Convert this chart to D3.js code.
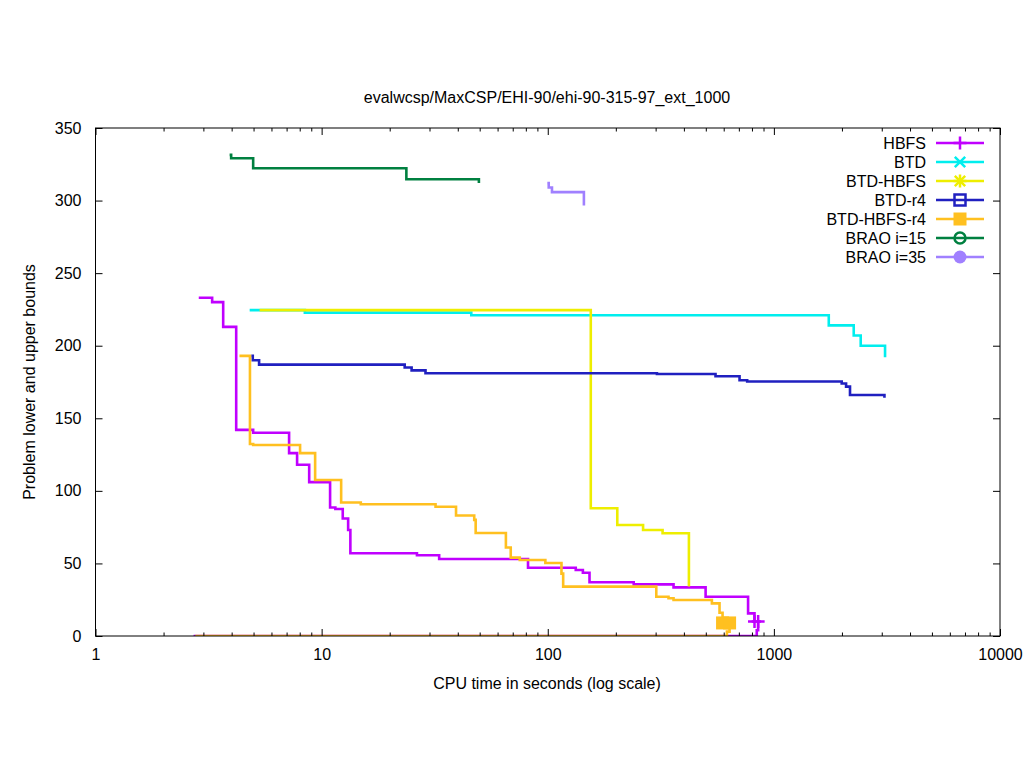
<!DOCTYPE html>
<html>
<head>
<meta charset="utf-8">
<script src="https://cdn.jsdelivr.net/npm/d3@7"></script>
<style>
  body { margin: 0; background: #fff; }
  svg text { font-family: "Liberation Sans", Arial, sans-serif; font-size: 16px; fill: #000; }
</style>
</head>
<body>
<svg id="chart" width="1024" height="768"></svg>
<script>
// series data as [cpu seconds, bound value]
const hbfsUpper = [[2.90,233],[3.28,230],[3.67,213],[4.19,142],[4.98,140],[7.18,126],[7.79,118],[8.81,106],
  [10.9,88.5],[11.5,87.5],[12.4,81],[13.1,73],[13.4,57],[26.4,55.6],[33.1,53],[81.8,47],[133,45.5],
  [143,43.6],[153,37],[240,35.6],[360,33.5],[499,27],[769,15.6],[821,10]];
const hbfsLower = [[2.75,0],[830,0],[840,4],[852,10]];
const btdUpper = [[4.87,224.5],[8.43,222.8],[45.9,221],[1749,214],[2255,207],[2421,200],[3102,193]];
const btdHbfsUpper = [[5.39,224.5],[155,88],[203,76.5],[264,73],[322,70.8],[421,35]];
const btdR4Upper = [[4.95,193],[4.96,190],[5.29,187],[23.3,185],[25.0,183],[28.8,181],[304,180.5],
  [552,179],[705,176.2],[762,175.3],[1995,174],[2086,171.8],[2171,166],[3083,165]];
const btdHbfsR4Upper = [[4.39,193],[4.82,132.3],[4.98,131.6],[8.03,126],[9.36,107.5],[12.2,92],[14.9,90.8],
  [31.9,89],[39.3,83],[47.3,80],[48,71],[65.3,61],[68.6,54],[75.2,52.4],[97.6,50.3],[115,43],[117,34],
  [302,27],[342,26],[360,24.8],[532,22.5],[575,16],[593,9]];
const btdHbfsR4Lower = [[2.8,0],[605,0],[620,3],[637,9]];
const brao15Upper = [[3.97,331.5],[3.98,329.2],[4.98,322.3],[23.7,314.7],[49.6,313]];
const brao35Upper = [[100.9,312],[101,309],[104.4,305.8],[144.5,297.5]];

const seriesNames = ['HBFS', 'BTD', 'BTD-HBFS', 'BTD-r4', 'BTD-HBFS-r4', 'BRAO i=15', 'BRAO i=35'];
const xTickLabels = [1, 10, 100, 1000, 10000];
const yTickLabels = [0, 50, 100, 150, 200, 250, 300, 350];

const colors = ['#c000ff', '#00eeee', '#eeee00', '#2020c0', '#ffc020', '#008040', '#a080ff'];
const symbols = ['plus', 'cross', 'star', 'square', 'fsquare', 'circle', 'fcircle'];

// each series: its curves, and whether the end points carry a marker
const series = [
  { curves: [hbfsUpper, hbfsLower], marked: true },
  { curves: [btdUpper], marked: false },
  { curves: [btdHbfsUpper], marked: false },
  { curves: [btdR4Upper], marked: false },
  { curves: [btdHbfsR4Upper, btdHbfsR4Lower], marked: true },
  { curves: [brao15Upper], marked: false },
  { curves: [brao35Upper], marked: false }
];

const svg = d3.select('#chart');
const plotLeft = 95.5, plotRight = 1000, plotTop = 128, plotBottom = 636;

const x = d3.scaleLog().domain([1, 10000]).range([plotLeft, plotRight]);
const y = d3.scaleLinear().domain([0, 350]).range([plotBottom, plotTop]);

svg.append('defs').append('clipPath').attr('id', 'plotClip')
  .append('rect')
  .attr('x', plotLeft).attr('y', plotTop)
  .attr('width', plotRight - plotLeft).attr('height', plotBottom - plotTop);

// point symbols
function drawSymbol(g, type, cx, cy, color) {
  const s = 6.5;
  if (type === 'plus' || type === 'star') {
    g.append('path').attr('d', `M${cx - s},${cy}H${cx + s}M${cx},${cy - s}V${cy + s}`)
      .attr('stroke', color).attr('stroke-width', 2.5).attr('fill', 'none');
  }
  if (type === 'cross' || type === 'star') {
    const c = s * 0.8;
    g.append('path').attr('d', `M${cx - c},${cy - c}L${cx + c},${cy + c}M${cx - c},${cy + c}L${cx + c},${cy - c}`)
      .attr('stroke', color).attr('stroke-width', 2.5).attr('fill', 'none');
  }
  if (type === 'square') {
    g.append('rect').attr('x', cx - 5.5).attr('y', cy - 5.5).attr('width', 11).attr('height', 11)
      .attr('fill', 'none').attr('stroke', color).attr('stroke-width', 2.5);
  }
  if (type === 'fsquare') {
    g.append('rect').attr('x', cx - s).attr('y', cy - s).attr('width', 2 * s).attr('height', 2 * s)
      .attr('fill', color);
  }
  if (type === 'circle') {
    g.append('circle').attr('cx', cx).attr('cy', cy).attr('r', 5.5)
      .attr('fill', 'none').attr('stroke', color).attr('stroke-width', 2.5);
  }
  if (type === 'fcircle') {
    g.append('circle').attr('cx', cx).attr('cy', cy).attr('r', 6.5).attr('fill', color);
  }
}

// curves, clipped to the plot box
const line = d3.line()
  .x(d => x(d[0]))
  .y(d => y(d[1]))
  .curve(d3.curveStepAfter);

const plotG = svg.append('g').attr('clip-path', 'url(#plotClip)');
series.forEach((s, i) => {
  s.curves.forEach(c => {
    plotG.append('path')
      .datum(c)
      .attr('d', line)
      .attr('fill', 'none')
      .attr('stroke', colors[i])
      .attr('stroke-width', 2.6)
      .attr('stroke-linejoin', 'miter')
      .attr('stroke-linecap', 'square');
  });
});
const markG = svg.append('g');
series.forEach((s, i) => {
  if (!s.marked) return;
  s.curves.forEach(c => {
    const last = c[c.length - 1];
    drawSymbol(markG, symbols[i], x(last[0]), y(last[1]), colors[i]);
  });
});

// minor ticks 2..9 in every decade
const minorTicks = [];
for (let d = 1; d < 10000; d *= 10) {
  for (let k = 2; k < 10; k++) minorTicks.push(d * k);
}

const axisG = svg.append('g').attr('class', 'axes');

axisG.append('g').attr('transform', `translate(0,${plotBottom})`)
  .call(d3.axisBottom(x).tickValues(xTickLabels).tickFormat(d3.format('d')).tickSizeInner(-7).tickSizeOuter(0).tickPadding(13));
axisG.append('g').attr('transform', `translate(0,${plotBottom})`)
  .call(d3.axisBottom(x).tickValues(minorTicks).tickFormat('').tickSizeInner(-3.5).tickSizeOuter(0));
axisG.append('g').attr('transform', `translate(0,${plotTop})`)
  .call(d3.axisTop(x).tickValues(xTickLabels).tickFormat('').tickSizeInner(-7).tickSizeOuter(0));
axisG.append('g').attr('transform', `translate(0,${plotTop})`)
  .call(d3.axisTop(x).tickValues(minorTicks).tickFormat('').tickSizeInner(-3.5).tickSizeOuter(0));
axisG.append('g').attr('transform', `translate(${plotLeft},0)`)
  .call(d3.axisLeft(y).tickValues(yTickLabels).tickSizeInner(-7).tickSizeOuter(0).tickPadding(14));
axisG.append('g').attr('transform', `translate(${plotRight},0)`)
  .call(d3.axisRight(y).tickValues(yTickLabels).tickFormat('').tickSizeInner(-7).tickSizeOuter(0));

axisG.selectAll('.domain').remove();
axisG.selectAll('.tick line').attr('stroke', '#000').attr('stroke-width', 1);
axisG.selectAll('.tick text').style('font-size', '16px').style('font-family', '"Liberation Sans", Arial, sans-serif').attr('fill', '#000');

svg.append('rect')
  .attr('x', plotLeft).attr('y', plotTop)
  .attr('width', plotRight - plotLeft).attr('height', plotBottom - plotTop)
  .attr('fill', 'none').attr('stroke', '#000').attr('stroke-width', 1);

// titles
svg.append('text').attr('x', 547).attr('y', 103).attr('text-anchor', 'middle')
  .text('evalwcsp/MaxCSP/EHI-90/ehi-90-315-97_ext_1000');
svg.append('text').attr('x', 547).attr('y', 689).attr('text-anchor', 'middle')
  .text('CPU time in seconds (log scale)');
svg.append('text').attr('transform', 'translate(35,382) rotate(-90)').attr('text-anchor', 'middle')
  .text('Problem lower and upper bounds');

// legend
const legend = svg.append('g');
seriesNames.forEach((name, i) => {
  const ly = 143 + i * 19;
  legend.append('text').attr('x', 926).attr('y', ly + 5.5).attr('text-anchor', 'end').text(name);
  legend.append('line').attr('x1', 936).attr('x2', 984).attr('y1', ly).attr('y2', ly)
    .attr('stroke', colors[i]).attr('stroke-width', 2.6);
  drawSymbol(legend, symbols[i], 960, ly, colors[i]);
});
</script>
</body>
</html>
